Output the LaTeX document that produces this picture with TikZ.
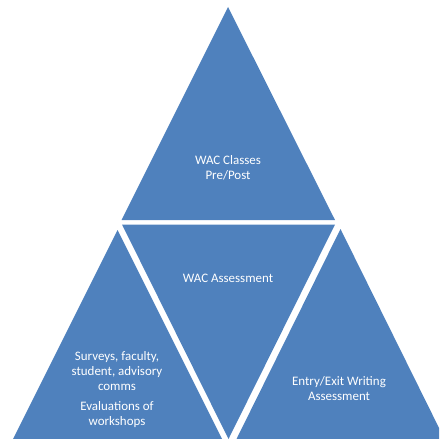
\documentclass[tikz,border=0pt]{standalone}
\usepackage{fontspec}
\setmainfont{Carlito}
\usepackage{tikz}
\definecolor{wacblue}{RGB}{79,129,189}

\begin{document}
\begin{tikzpicture}[x=1bp,y=-1bp]
\tikzstyle{every node}+=[inner sep=0pt]
\tikzstyle{tri}=[fill=wacblue]
\tikzstyle{lbl}=[text=white, align=center, font=\fontsize{13}{15}\selectfont]
\useasboundingbox (0,0) rectangle (439,439);
\clip (0,0) rectangle (439,439);
\fill [tri] (228,7) -- (335,220) -- (121.5,220) -- cycle;
\fill [tri] (122,224.5) -- (335,224.5) -- (228.5,439) -- cycle;
\fill [tri] (117.5,230) -- (222,439) -- (13,439) -- cycle;
\fill [tri] (340.5,229) -- (444.5,439) -- (236.5,439) -- cycle;
\draw (228,167.5) node [lbl] (classes) {WAC Classes\\Pre/Post};
\draw (228,278) node [lbl] (assess) {WAC Assessment};
\draw (117,389.5) node [lbl] (surveys) {Surveys, faculty,\\student, advisory\\comms\\[5bp]Evaluations of\\workshops};
\draw (339,389) node [lbl] (entryexit) {Entry/Exit Writing\\Assessment};
\end{tikzpicture}
\end{document}
